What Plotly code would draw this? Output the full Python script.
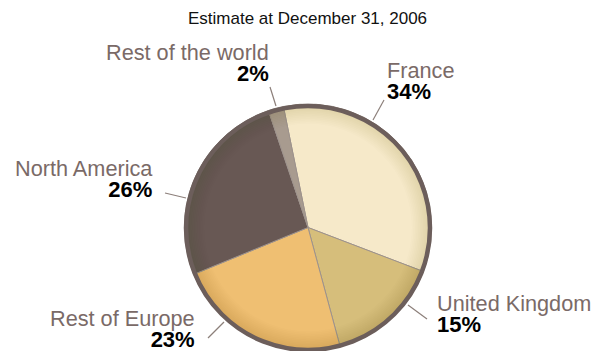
import plotly.graph_objects as go

# Geographic breakdown, estimate at December 31, 2006
regions = ["France", "United Kingdom", "Rest of Europe", "North America", "Rest of the world"]
shares = [34, 15, 23, 26, 2]
colors = ["#f6e9c9", "#d6be7b", "#efbf72", "#685854", "#a89b8f"]

W, H = 605, 351
CX, CY, R = 308, 228, 124


def px(x):
    return x / W


def py(y):
    return 1 - y / H


pie_domain = dict(x=[px(CX - R), px(CX + R)], y=[0, py(CY - R)])

fig = go.Figure()
fig.add_trace(go.Pie(
    labels=regions,
    values=shares,
    sort=False,
    direction="clockwise",
    rotation=-11.5,
    marker=dict(colors=colors, line=dict(color="#9d928c", width=1)),
    textinfo="none",
    hoverinfo="label+percent",
    showlegend=False,
    domain=pie_domain,
))

# soft darkening towards the edge of the disc, built from thin translucent rings
n_rings = 12
for i in range(n_rings):
    hole = 0.84 + i * (0.985 - 0.84) / (n_rings - 1)
    fig.add_trace(go.Pie(
        values=[1], hole=hole, sort=False, textinfo="none", hoverinfo="skip",
        showlegend=False, domain=pie_domain,
        marker=dict(colors=["rgba(80,55,35,0.011)"], line=dict(width=0)),
    ))

# outer rim of the pie
rim = 2
fig.add_shape(type="circle", xref="paper", yref="paper",
              x0=px(CX - R + rim), x1=px(CX + R - rim),
              y0=py(CY + R - rim), y1=py(CY - R + rim),
              line=dict(color="#6c5e5b", width=4.5))

# label anchors: name position (x, cap-middle y), alignment, leader line
label_layout = {
    "France": dict(x=386, y=70, align="left", line=(373, 120, 384, 100)),
    "United Kingdom": dict(x=436, y=303, align="left", line=(408, 305, 427, 319)),
    "Rest of Europe": dict(x=196, y=318, align="right", line=(224, 322, 208, 338)),
    "North America": dict(x=154, y=168, align="right", line=(186, 198, 165, 193)),
    "Rest of the world": dict(x=270, y=52, align="right", line=(276, 106, 270, 87)),
}

FONT = "Liberation Sans, Arial, Helvetica, sans-serif"
LINE_GAP = 21  # baseline-to-baseline distance between name and percentage
for name, val in zip(regions, shares):
    L = label_layout[name]
    anchor = "left" if L["align"] == "left" else "right"
    text = (f"<span style='font-size:21.7px;color:#7a6a67'>{name}</span><br>"
            f"<span style='font-size:22px;color:#000000'><b>{val}%</b></span>")
    fig.add_annotation(x=px(L["x"]), y=py(L["y"] + LINE_GAP / 2), xref="paper", yref="paper",
                       text=text, showarrow=False, xanchor=anchor, yanchor="middle",
                       align=L["align"], borderpad=0,
                       font=dict(family=FONT, size=LINE_GAP / 1.3, color="#7a6a67"))
    x0, y0, x1, y1 = L["line"]
    fig.add_shape(type="line", xref="paper", yref="paper",
                  x0=px(x0), y0=py(y0), x1=px(x1), y1=py(y1),
                  line=dict(color="#8c7f7a", width=1.2))

fig.add_annotation(x=px(307), y=py(18), xref="paper", yref="paper",
                   text="Estimate at December 31, 2006", showarrow=False,
                   xanchor="center", yanchor="middle",
                   font=dict(family=FONT, size=17, color="#111111"))

fig.update_layout(
    width=W, height=H,
    margin=dict(l=0, r=0, t=0, b=0),
    paper_bgcolor="white",
    plot_bgcolor="white",
)

fig.write_html("out.html")
